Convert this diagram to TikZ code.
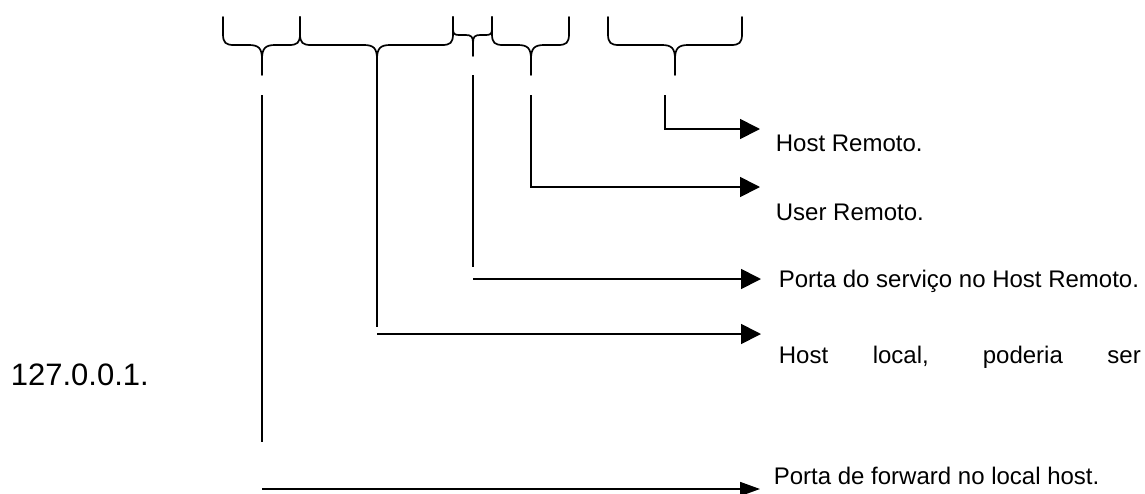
\documentclass[tikz,border=0pt]{standalone}
\usepackage{fontspec}
\setmainfont{Liberation Sans}
\usetikzlibrary{arrows.meta}

% chave virada para baixo: x esquerdo, x direito, x da ponta, y da barra, y da ponta, raio
\newcommand{\chave}[6]{%
  \draw[brace] (#1,17) -- (#1,#4-#6) .. controls (#1,#4-0.2*#6) and (#1+0.25*#6,#4) .. (#1+#6,#4) -- (#3-1.2*#6,#4)
    .. controls (#3-0.3*#6,#4) and (#3,#4+0.3*#6) .. (#3,#4+1.3*#6) -- (#3,#5);
  \draw[brace] (#2,17) -- (#2,#4-#6) .. controls (#2,#4-0.2*#6) and (#2-0.25*#6,#4) .. (#2-#6,#4) -- (#3+1.2*#6,#4)
    .. controls (#3+0.3*#6,#4) and (#3,#4+0.3*#6) .. (#3,#4+1.3*#6);
}

\begin{document}
\begin{tikzpicture}[x=1pt, y=-1pt, line width=1.7pt,
                    >={Triangle[length=20pt,width=20pt]},
                    brace/.style={line cap=round, line join=round},
                    leader/.style={},
                    arrowline/.style={->},
                    label/.style={anchor=base west, inner sep=0pt, font=\fontsize{24}{28}\selectfont}]
    \useasboundingbox (0,0) rectangle (1145,493);

    % chaves
    \chave{223}{300}{262}{45}{75}{11}
    \chave{300}{453}{377}{45}{75}{11}
    \chave{453}{492}{473}{35}{56}{6}
    \chave{492}{569}{531}{45}{75}{11}
    \chave{608}{742}{675}{45}{75}{11}

    % textos
    \node (HostRemoto) [label] at (775,151) {Host Remoto.};
    \node (UserRemoto) [label] at (775,220) {User Remoto.};
    \node (PortaServico) [label] at (778,287) {Porta do serviço no Host Remoto.};
    \node (HostLocal) [label] at (778,363) {\makebox[362pt][s]{Host local, poderia ser}};
    \node (Localhost) [label, font=\fontsize{31}{36}\selectfont] at (10,385) {127.0.0.1.};
    \node (PortaForward) [label] at (773,484) {Porta de forward no local host.};

    % pontos das linhas
    \coordinate (a1) at (665,95);  \coordinate (b1) at (665,129); \coordinate (c1) at (760,129);
    \coordinate (a2) at (531,95);  \coordinate (b2) at (531,187); \coordinate (c2) at (760,187);
    \coordinate (a3) at (473,75);  \coordinate (b3) at (473,267);
    \coordinate (d3) at (473,279); \coordinate (c3) at (761,279);
    \coordinate (a4) at (377,75);  \coordinate (b4) at (377,327);
    \coordinate (d4) at (377,334); \coordinate (c4) at (761,334);
    \coordinate (a5) at (262,95);  \coordinate (b5) at (262,442);
    \coordinate (d5) at (262,489); \coordinate (c5) at (760,489);

    \draw[arrowline] (a1) -- (b1) -- (c1);
    \draw[arrowline] (a2) -- (b2) -- (c2);
    \draw[leader] (a3) -- (b3);
    \draw[arrowline] (d3) -- (c3);
    \draw[leader] (a4) -- (b4);
    \draw[arrowline] (d4) -- (c4);
    \draw[leader] (a5) -- (b5);
    \draw[arrowline, >={Triangle[length=20pt,width=14pt]}] (d5) -- (c5);
\end{tikzpicture}
\end{document}
